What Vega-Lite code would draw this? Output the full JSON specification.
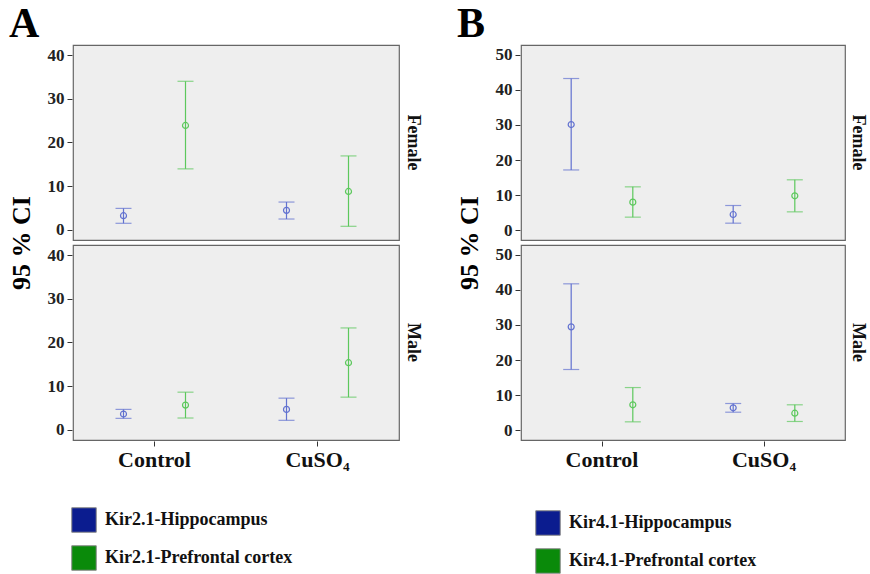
{
  "$schema": "https://vega.github.io/schema/vega-lite/v6.json",
  "background": "white",
  "padding": {"left": 8, "top": 3, "right": 2, "bottom": 0},
  "config": {
    "font": "Liberation Serif",
    "view": {"fill": "#eeeeee", "stroke": "#666666", "strokeWidth": 1.2},
    "axis": {"grid": false, "domain": false, "tickColor": "#333333", "tickSize": 5, "labelFont": "Liberation Serif", "labelFontWeight": "bold", "labelColor": "#222222", "labelOverlap": false},
    "title": {"font": "Liberation Serif", "fontWeight": "bold", "color": "black"},
    "legend": {"padding": 0}
  },
  "datasets": {
    "a": [
      {"sex": "Female", "group": "Control", "region": "Kir2.1-Hippocampus", "mean": 3.26, "lo": 1.52, "hi": 4.93},
      {"sex": "Female", "group": "Control", "region": "Kir2.1-Prefrontal cortex", "mean": 23.9, "lo": 13.97, "hi": 34.0},
      {"sex": "Female", "group": "CuSO₄", "region": "Kir2.1-Hippocampus", "mean": 4.48, "lo": 2.5, "hi": 6.38},
      {"sex": "Female", "group": "CuSO₄", "region": "Kir2.1-Prefrontal cortex", "mean": 8.8, "lo": 0.83, "hi": 16.93},
      {"sex": "Male", "group": "Control", "region": "Kir2.1-Hippocampus", "mean": 3.64, "lo": 2.65, "hi": 4.7},
      {"sex": "Male", "group": "Control", "region": "Kir2.1-Prefrontal cortex", "mean": 5.68, "lo": 2.73, "hi": 8.64},
      {"sex": "Male", "group": "CuSO₄", "region": "Kir2.1-Hippocampus", "mean": 4.7, "lo": 2.2, "hi": 7.27},
      {"sex": "Male", "group": "CuSO₄", "region": "Kir2.1-Prefrontal cortex", "mean": 15.38, "lo": 7.5, "hi": 23.33}
    ],
    "b": [
      {"sex": "Female", "group": "Control", "region": "Kir4.1-Hippocampus", "mean": 30.1, "lo": 17.2, "hi": 43.18},
      {"sex": "Female", "group": "Control", "region": "Kir4.1-Prefrontal cortex", "mean": 8.05, "lo": 3.79, "hi": 12.4},
      {"sex": "Female", "group": "CuSO₄", "region": "Kir4.1-Hippocampus", "mean": 4.55, "lo": 2.08, "hi": 7.1},
      {"sex": "Female", "group": "CuSO₄", "region": "Kir4.1-Prefrontal cortex", "mean": 9.85, "lo": 5.3, "hi": 14.4},
      {"sex": "Male", "group": "Control", "region": "Kir4.1-Hippocampus", "mean": 29.45, "lo": 17.33, "hi": 41.67},
      {"sex": "Male", "group": "Control", "region": "Kir4.1-Prefrontal cortex", "mean": 7.3, "lo": 2.46, "hi": 12.2},
      {"sex": "Male", "group": "CuSO₄", "region": "Kir4.1-Hippocampus", "mean": 6.44, "lo": 5.2, "hi": 7.67},
      {"sex": "Male", "group": "CuSO₄", "region": "Kir4.1-Prefrontal cortex", "mean": 4.92, "lo": 2.56, "hi": 7.3}
    ]
  },
  "hconcat": [
    {
      "data": {"name": "a"},
      "title": {"text": "A", "anchor": "start", "frame": "bounds", "fontSize": 42, "offset": -2},
      "spacing": 3,
      "facet": {
        "row": {
          "field": "sex", "type": "nominal", "sort": ["Female", "Male"],
          "header": {
            "title": "95 % CI", "titleOrient": "left", "titleFontSize": 26, "titleFont": "Liberation Serif", "titleFontWeight": "bold", "titleColor": "black", "titlePadding": 2,
            "labelOrient": "right", "labelAngle": 90, "labelFontSize": 18, "labelFont": "Liberation Serif", "labelFontWeight": "bold", "labelColor": "#111111", "labelPadding": 4
          }
        }
      },
      "spec": {
        "width": 326,
        "height": 195,
        "encoding": {
          "x": {"field": "group", "type": "nominal", "sort": ["Control", "CuSO₄"], "title": null,
                "scale": {"paddingInner": 0, "paddingOuter": 0},
                "axis": {"labelAngle": 0, "labelFontSize": 22, "labelPadding": 3, "labelColor": "#111111"}},
          "xOffset": {"field": "region", "type": "nominal", "scale": {"paddingInner": 0, "paddingOuter": 0.3145}},
          "color": {"field": "region", "type": "nominal", "scale": {"range": ["#6272d0", "#5cc85c"]}, "legend": null}
        },
        "layer": [
          {"mark": {"type": "rule", "strokeWidth": 1.2},
           "encoding": {"y": {"field": "lo", "type": "quantitative", "title": null,
                              "scale": {"domain": [-2.3, 42.3], "nice": false, "zero": false},
                              "axis": {"values": [0, 10, 20, 30, 40], "labelFontSize": 17, "labelPadding": 3}},
                        "y2": {"field": "hi"}}},
          {"mark": {"type": "tick", "size": 16, "thickness": 1.2, "orient": "horizontal"},
           "encoding": {"y": {"field": "lo", "type": "quantitative", "title": null, "axis": {"values": [0, 10, 20, 30, 40], "labelFontSize": 17, "labelPadding": 3}}}},
          {"mark": {"type": "tick", "size": 16, "thickness": 1.2, "orient": "horizontal"},
           "encoding": {"y": {"field": "hi", "type": "quantitative", "title": null, "axis": {"values": [0, 10, 20, 30, 40], "labelFontSize": 17, "labelPadding": 3}}}},
          {"mark": {"type": "point", "shape": "circle", "filled": false, "size": 36, "strokeWidth": 1.2, "opacity": 1},
           "encoding": {"y": {"field": "mean", "type": "quantitative", "title": null, "axis": {"values": [0, 10, 20, 30, 40], "labelFontSize": 17, "labelPadding": 3}}}},
          {"mark": {"type": "point", "shape": "square", "filled": true, "size": 36, "opacity": 0},
           "encoding": {"y": {"field": "mean", "type": "quantitative", "title": null, "axis": {"values": [0, 10, 20, 30, 40], "labelFontSize": 17, "labelPadding": 3}},
                        "fill": {"field": "region", "type": "nominal", "scale": {"range": ["#0b1c8f", "#0a8a0a"]},
                                 "legend": {"title": null, "orient": "none", "legendX": -2, "legendY": 462, "direction": "vertical",
                                            "symbolType": "square", "symbolSize": 600, "symbolOpacity": 1, "symbolStrokeColor": "#8a8a8a", "symbolStrokeWidth": 1, "rowPadding": 8, "labelLimit": 400,
                                            "labelFont": "Liberation Serif", "labelFontSize": 18, "labelFontWeight": "bold", "labelColor": "#111111", "labelOffset": 8}}}}
        ]
      }
    },
    {
      "data": {"name": "b"},
      "title": {"text": "B", "anchor": "start", "frame": "bounds", "fontSize": 42, "offset": -2},
      "spacing": 3,
      "facet": {
        "row": {
          "field": "sex", "type": "nominal", "sort": ["Female", "Male"],
          "header": {
            "title": "95 % CI", "titleOrient": "left", "titleFontSize": 26, "titleFont": "Liberation Serif", "titleFontWeight": "bold", "titleColor": "black", "titlePadding": 2,
            "labelOrient": "right", "labelAngle": 90, "labelFontSize": 18, "labelFont": "Liberation Serif", "labelFontWeight": "bold", "labelColor": "#111111", "labelPadding": 3
          }
        }
      },
      "spec": {
        "width": 324,
        "height": 195,
        "encoding": {
          "x": {"field": "group", "type": "nominal", "sort": ["Control", "CuSO₄"], "title": null,
                "scale": {"paddingInner": 0, "paddingOuter": 0},
                "axis": {"labelAngle": 0, "labelFontSize": 22, "labelPadding": 3, "labelColor": "#111111"}},
          "xOffset": {"field": "region", "type": "nominal", "scale": {"paddingInner": 0, "paddingOuter": 0.3145}},
          "color": {"field": "region", "type": "nominal", "scale": {"range": ["#6272d0", "#5cc85c"]}, "legend": null}
        },
        "layer": [
          {"mark": {"type": "rule", "strokeWidth": 1.2},
           "encoding": {"y": {"field": "lo", "type": "quantitative", "title": null,
                              "scale": {"domain": [-2.7, 52.7], "nice": false, "zero": false},
                              "axis": {"values": [0, 10, 20, 30, 40, 50], "labelFontSize": 17, "labelPadding": 3}},
                        "y2": {"field": "hi"}}},
          {"mark": {"type": "tick", "size": 16, "thickness": 1.2, "orient": "horizontal"},
           "encoding": {"y": {"field": "lo", "type": "quantitative", "title": null, "axis": {"values": [0, 10, 20, 30, 40, 50], "labelFontSize": 17, "labelPadding": 3}}}},
          {"mark": {"type": "tick", "size": 16, "thickness": 1.2, "orient": "horizontal"},
           "encoding": {"y": {"field": "hi", "type": "quantitative", "title": null, "axis": {"values": [0, 10, 20, 30, 40, 50], "labelFontSize": 17, "labelPadding": 3}}}},
          {"mark": {"type": "point", "shape": "circle", "filled": false, "size": 36, "strokeWidth": 1.2, "opacity": 1},
           "encoding": {"y": {"field": "mean", "type": "quantitative", "title": null, "axis": {"values": [0, 10, 20, 30, 40, 50], "labelFontSize": 17, "labelPadding": 3}}}},
          {"mark": {"type": "point", "shape": "square", "filled": true, "size": 36, "opacity": 0},
           "encoding": {"y": {"field": "mean", "type": "quantitative", "title": null, "axis": {"values": [0, 10, 20, 30, 40, 50], "labelFontSize": 17, "labelPadding": 3}},
                        "fill": {"field": "region", "type": "nominal", "scale": {"range": ["#0b1c8f", "#0a8a0a"]},
                                 "legend": {"title": null, "orient": "none", "legendX": 14, "legendY": 465, "direction": "vertical",
                                            "symbolType": "square", "symbolSize": 600, "symbolOpacity": 1, "symbolStrokeColor": "#8a8a8a", "symbolStrokeWidth": 1, "rowPadding": 8, "labelLimit": 400,
                                            "labelFont": "Liberation Serif", "labelFontSize": 18, "labelFontWeight": "bold", "labelColor": "#111111", "labelOffset": 8}}}}
        ]
      }
    }
  ],
  "spacing": 34,
  "resolve": {"scale": {"color": "independent", "fill": "independent", "y": "independent", "xOffset": "independent"}, "legend": {"fill": "independent"}}
}
